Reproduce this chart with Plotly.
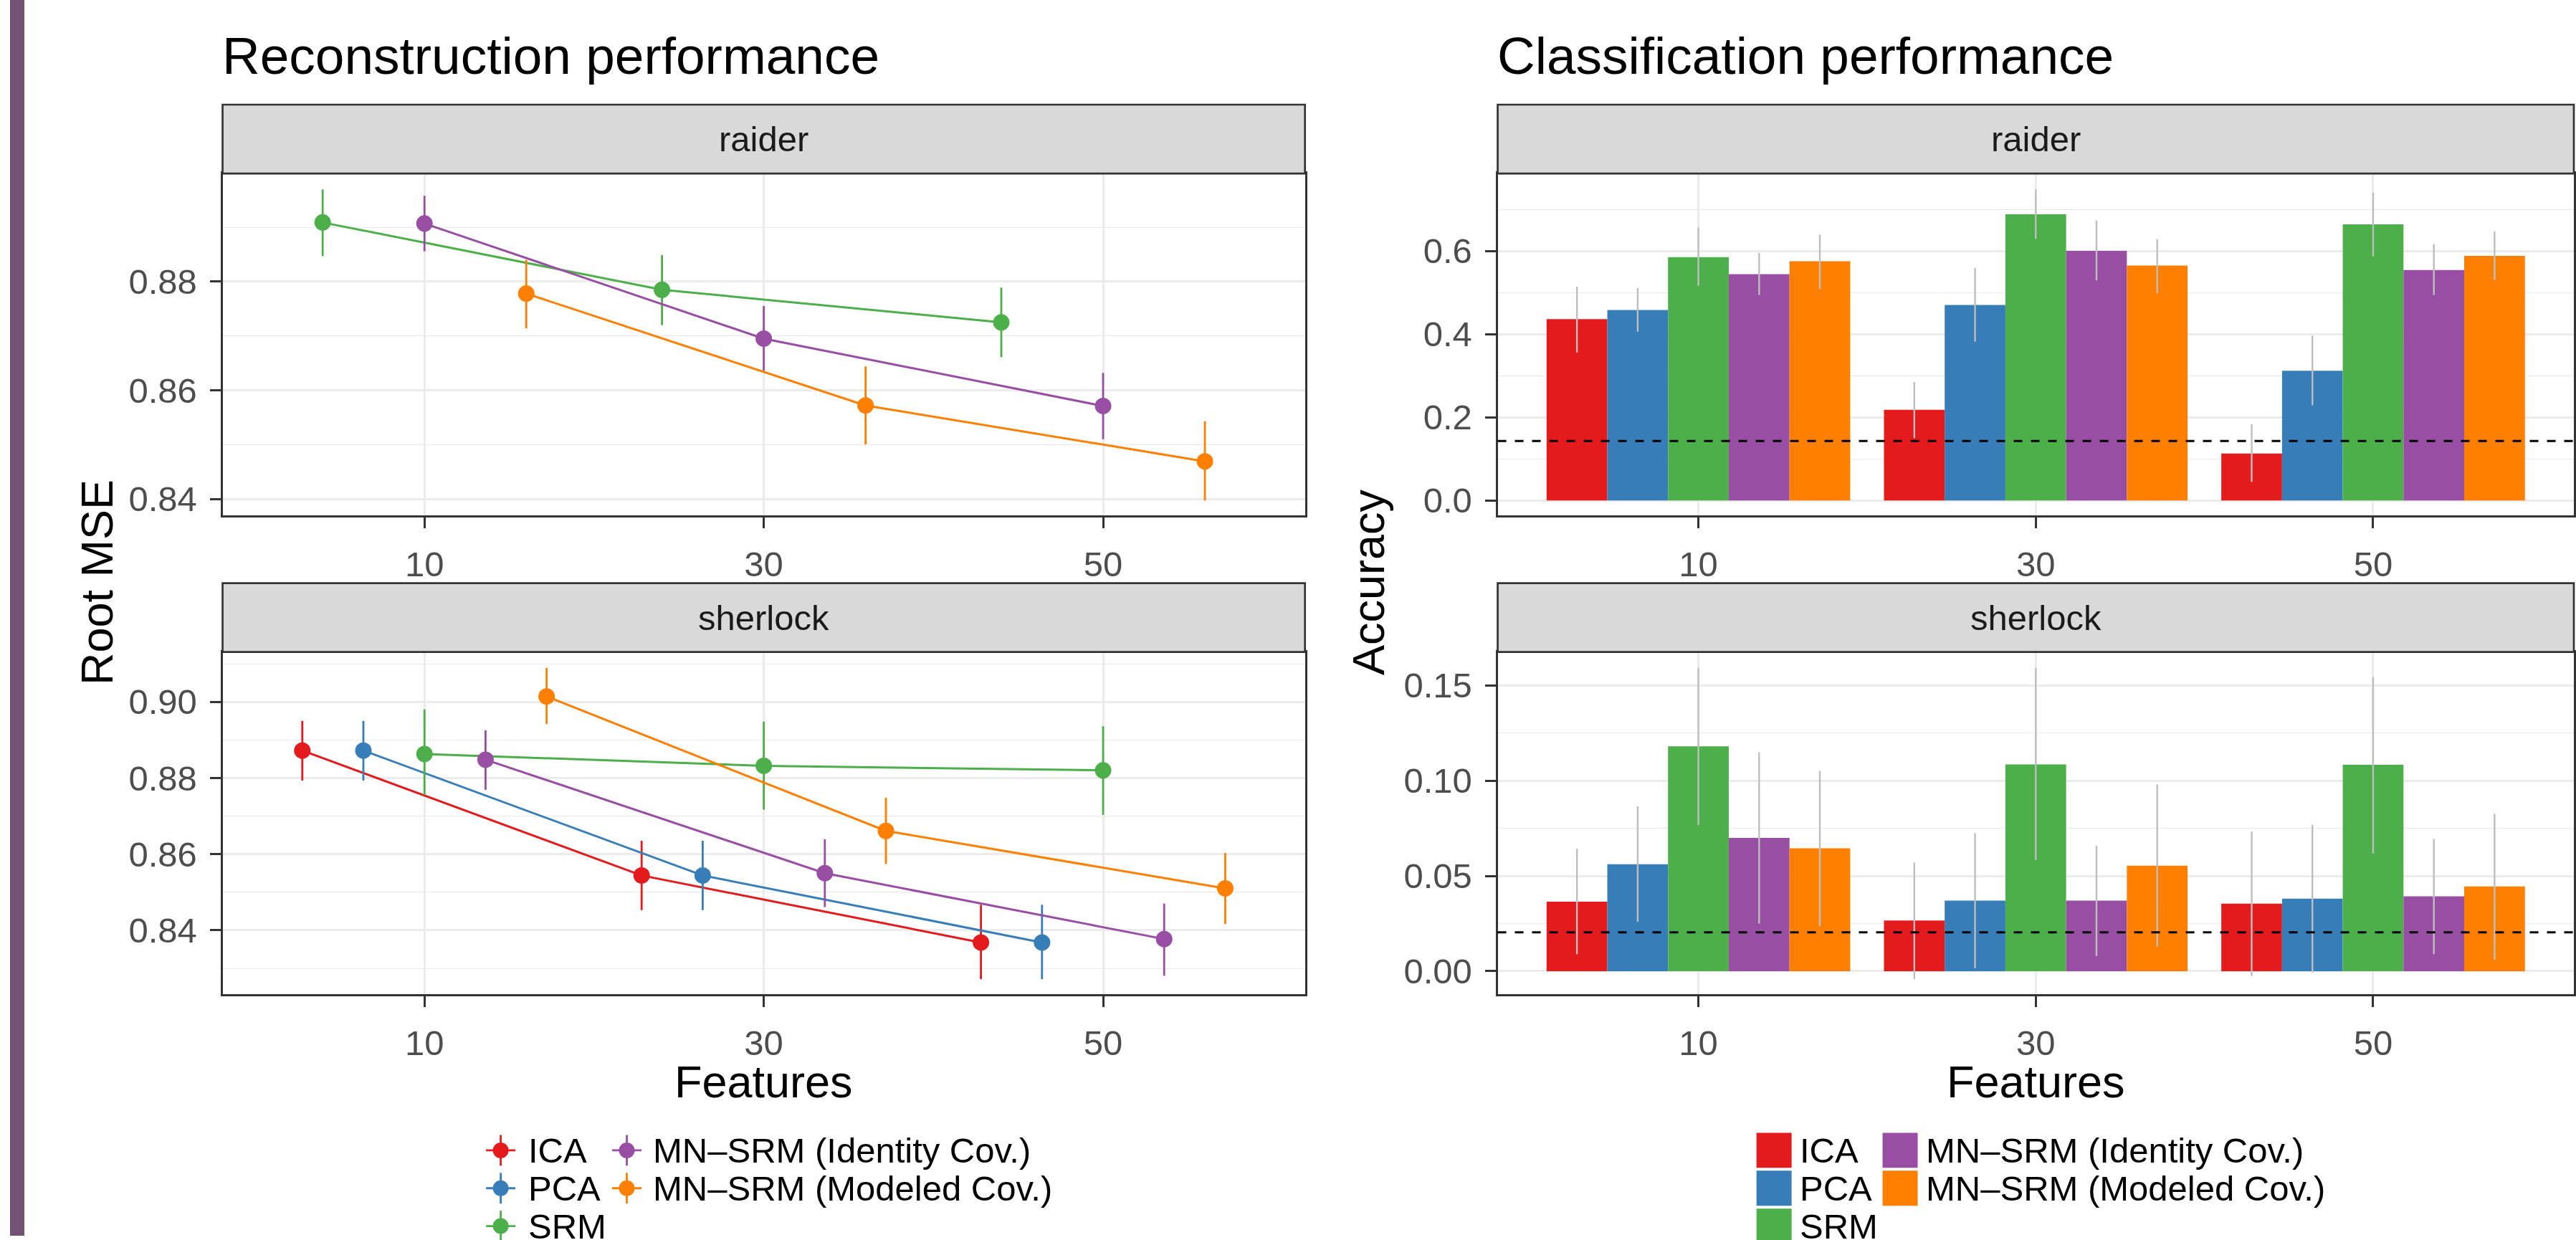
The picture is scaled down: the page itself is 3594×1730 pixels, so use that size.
import plotly.graph_objects as go

W, H = 3594, 1730
FONT = "Liberation Sans, Arial, Helvetica, sans-serif"

# ---------------- data ----------------
methods = ["ICA", "PCA", "SRM", "MN\u2013SRM (Identity Cov.)", "MN\u2013SRM (Modeled Cov.)"]
colors = ["#E41A1C", "#377EB8", "#4DAF4A", "#984EA3", "#FF7F00"]
features = [10, 30, 50]
datasets = ["raider", "sherlock"]

# Reconstruction performance (Root MSE): mean / lower / upper
rec_raider_methods = ["SRM", "MN\u2013SRM (Identity Cov.)", "MN\u2013SRM (Modeled Cov.)"]
rec_raider_mean = [[0.8909, 0.8785, 0.8725], [0.8907, 0.8695, 0.8571], [0.8778, 0.8572, 0.8469]]
rec_raider_lo = [[0.8847, 0.8720, 0.8661], [0.8856, 0.8636, 0.8510], [0.8714, 0.8500, 0.8397]]
rec_raider_hi = [[0.8970, 0.8849, 0.8789], [0.8958, 0.8755, 0.8632], [0.8840, 0.8644, 0.8543]]

rec_sherlock_methods = methods
rec_sherlock_mean = [[0.8872, 0.8544, 0.8368], [0.8872, 0.8544, 0.8368], [0.8863, 0.8832, 0.8820],
                     [0.8848, 0.8550, 0.8377], [0.9014, 0.8661, 0.8510]]
rec_sherlock_lo = [[0.8793, 0.8453, 0.8272], [0.8793, 0.8453, 0.8272], [0.8755, 0.8717, 0.8703],
                   [0.8769, 0.8461, 0.8281], [0.8942, 0.8574, 0.8417]]
rec_sherlock_hi = [[0.8950, 0.8635, 0.8467], [0.8950, 0.8635, 0.8467], [0.8980, 0.8948, 0.8936],
                   [0.8925, 0.8639, 0.8470], [0.9089, 0.8748, 0.8603]]

# Classification performance (Accuracy): mean / lower / upper, per method across features
cls_raider_mean = [[0.436, 0.218, 0.113], [0.458, 0.470, 0.312], [0.585, 0.688, 0.664],
                   [0.544, 0.600, 0.554], [0.575, 0.565, 0.588]]
cls_raider_lo = [[0.356, 0.150, 0.045], [0.406, 0.382, 0.229], [0.516, 0.629, 0.587],
                 [0.494, 0.529, 0.494], [0.509, 0.498, 0.530]]
cls_raider_hi = [[0.514, 0.285, 0.183], [0.511, 0.559, 0.396], [0.656, 0.748, 0.740],
                 [0.595, 0.673, 0.616], [0.639, 0.628, 0.647]]

cls_sherlock_mean = [[0.0365, 0.0266, 0.0354], [0.0561, 0.0370, 0.0381], [0.1180, 0.1085, 0.1083],
                     [0.0699, 0.0370, 0.0393], [0.0645, 0.0554, 0.0445]]
cls_sherlock_lo = [[0.0089, -0.0041, -0.0025], [0.0259, 0.0016, -0.0007], [0.0767, 0.0583, 0.0617],
                   [0.0250, 0.0079, 0.0089], [0.0236, 0.0129, 0.0061]]
cls_sherlock_hi = [[0.0642, 0.0570, 0.0733], [0.0865, 0.0724, 0.0767], [0.1590, 0.1590, 0.1543],
                   [0.1148, 0.0658, 0.0694], [0.1051, 0.0980, 0.0826]]

chance_level = [1 / 7, 1 / 49]

# ---------------- helpers ----------------
def px_x(p):
    return p / W


def px_y(p):
    return 1 - p / H


DODGE = 18.0
fig = go.Figure()

def add_lines(mlist, mean, lo, hi, xa, ya):
    n = len(mlist)
    for i, m in enumerate(mlist):
        c = colors[methods.index(m)]
        off = -DODGE / 2 + DODGE / n * (i + 0.5)
        fig.add_trace(go.Scatter(
            x=[f + off for f in features], y=mean[i], mode="lines+markers",
            line=dict(color=c, width=3), marker=dict(color=c, size=23),
            error_y=dict(type="data", symmetric=False,
                         array=[h - v for h, v in zip(hi[i], mean[i])],
                         arrayminus=[v - l for v, l in zip(mean[i], lo[i])],
                         color=c, thickness=2.8, width=0),
            xaxis=xa, yaxis=ya, showlegend=False, name=m))


def add_bars(mean, lo, hi, xa, ya):
    for i, m in enumerate(methods):
        fig.add_trace(go.Bar(
            x=features, y=mean[i], marker=dict(color=colors[i], line=dict(width=0)),
            error_y=dict(type="data", symmetric=False,
                         array=[h - v for h, v in zip(hi[i], mean[i])],
                         arrayminus=[v - l for v, l in zip(mean[i], lo[i])],
                         color="#BEBEBE", thickness=2.4, width=0),
            xaxis=xa, yaxis=ya, showlegend=False, name=m))


add_lines(rec_raider_methods, rec_raider_mean, rec_raider_lo, rec_raider_hi, "x", "y")
add_lines(rec_sherlock_methods, rec_sherlock_mean, rec_sherlock_lo, rec_sherlock_hi, "x2", "y2")
add_bars(cls_raider_mean, cls_raider_lo, cls_raider_hi, "x3", "y3")
add_bars(cls_sherlock_mean, cls_sherlock_lo, cls_sherlock_hi, "x4", "y4")

# ---------------- layout geometry (pixels) ----------------
LEFT_X = (310.7, 1821.7)
RIGHT_X = (2090.7, 3593.0)
TOP_P = (243.0, 722.0)      # plot area raider
BOT_P = (912.7, 1392.0)     # plot area sherlock
TOP_S = (146.5, 243.0)      # strip raider
BOT_S = (816.5, 912.7)      # strip sherlock

GRID = "#EBEBEB"
DARK = "#333333"


def xdom(r):
    return [px_x(r[0]), px_x(r[1])]


def ydom(r):
    return [px_y(r[1]), px_y(r[0])]


def xaxis(dom, anchor):
    return dict(domain=xdom(dom), anchor=anchor, range=[-1.9, 61.9], tickmode="array",
                tickvals=features, ticks="outside", ticklen=15, tickwidth=2.7, tickcolor=DARK,
                showline=True, linecolor=DARK, linewidth=2.7, mirror=True,
                showgrid=True, gridcolor=GRID, gridwidth=2.6, zeroline=False,
                tickfont=dict(family=FONT, size=49, color="#4D4D4D"), ticklabelstandoff=8)


def yaxis(dom, anchor, rng, tickvals, minor, fmt):
    return dict(domain=ydom(dom), anchor=anchor, range=rng, tickmode="array",
                tickvals=tickvals, tickformat=fmt, ticks="outside", ticklen=15, tickwidth=2.7,
                tickcolor=DARK, showline=True, linecolor=DARK, linewidth=2.7, mirror=True,
                showgrid=True, gridcolor=GRID, gridwidth=2.6, zeroline=False,
                minor=dict(tickmode="array", tickvals=minor, showgrid=True, gridcolor=GRID,
                           gridwidth=1.3, ticks=""),
                tickfont=dict(family=FONT, size=49, color="#4D4D4D"), ticklabelstandoff=8)


fig.update_layout(
    width=W, height=H, margin=dict(l=0, r=0, t=0, b=0),
    paper_bgcolor="white", plot_bgcolor="white",
    barmode="group", bargap=0.1, bargroupgap=0.0,
    font=dict(family=FONT, color="black"),
    xaxis=xaxis(LEFT_X, "y"),
    yaxis=yaxis(TOP_P, "x", [0.8369, 0.8999], [0.84, 0.86, 0.88], [0.85, 0.87, 0.89], ".2f"),
    xaxis2=xaxis(LEFT_X, "y2"),
    yaxis2=yaxis(BOT_P, "x2", [0.8232, 0.9131], [0.84, 0.86, 0.88, 0.90],
                 [0.83, 0.85, 0.87, 0.89, 0.91], ".2f"),
    xaxis3=xaxis(RIGHT_X, "y3"),
    yaxis3=yaxis(TOP_P, "x3", [-0.0366, 0.786], [0.0, 0.2, 0.4, 0.6], [0.1, 0.3, 0.5, 0.7], ".1f"),
    xaxis4=xaxis(RIGHT_X, "y4"),
    yaxis4=yaxis(BOT_P, "x4", [-0.0121, 0.1675], [0.0, 0.05, 0.10, 0.15],
                 [0.025, 0.075, 0.125], ".2f"),
)

shapes = []
annotations = []

# decorative slide bar on the far left
shapes.append(dict(type="rect", xref="paper", yref="paper", x0=px_x(14), x1=px_x(34), y0=0, y1=1,
                   fillcolor="#735177", line=dict(width=0), layer="below"))

# chance lines
for xa, ya, lvl in (("x3", "y3", chance_level[0]), ("x4", "y4", chance_level[1])):
    shapes.append(dict(type="line", xref=xa + " domain", yref=ya, x0=0, x1=1, y0=lvl, y1=lvl,
                       line=dict(color="black", width=3, dash="12px,12px"), layer="above"))

# facet strips
for xr in (LEFT_X, RIGHT_X):
    for sr, label in ((TOP_S, datasets[0]), (BOT_S, datasets[1])):
        shapes.append(dict(type="rect", xref="paper", yref="paper",
                           x0=px_x(xr[0]), x1=px_x(xr[1]), y0=px_y(sr[1]), y1=px_y(sr[0]),
                           fillcolor="#D9D9D9", line=dict(color=DARK, width=2.7)))
        annotations.append(dict(text=label, xref="paper", yref="paper",
                                x=px_x((xr[0] + xr[1]) / 2), y=px_y((sr[0] + sr[1]) / 2),
                                xanchor="center", yanchor="middle", showarrow=False,
                                font=dict(family=FONT, size=49, color="#1A1A1A")))

# titles
annotations.append(dict(text="Reconstruction performance", xref="paper", yref="paper",
                        x=px_x(308), y=px_y(78), xanchor="left", yanchor="middle",
                        showarrow=False, font=dict(family=FONT, size=73, color="black")))
annotations.append(dict(text="Classification performance", xref="paper", yref="paper",
                        x=px_x(2088), y=px_y(78), xanchor="left", yanchor="middle",
                        showarrow=False, font=dict(family=FONT, size=73, color="black")))

# axis titles
for xr in (LEFT_X, RIGHT_X):
    annotations.append(dict(text="Features", xref="paper", yref="paper",
                            x=px_x((xr[0] + xr[1]) / 2), y=px_y(1514), xanchor="center",
                            yanchor="middle", showarrow=False,
                            font=dict(family=FONT, size=63, color="black")))
annotations.append(dict(text="Root MSE", xref="paper", yref="paper", x=px_x(135), y=px_y(815),
                        xanchor="center", yanchor="middle", textangle=-90, showarrow=False,
                        font=dict(family=FONT, size=63, color="black")))
annotations.append(dict(text="Accuracy", xref="paper", yref="paper", x=px_x(1910), y=px_y(815),
                        xanchor="center", yanchor="middle", textangle=-90, showarrow=False,
                        font=dict(family=FONT, size=63, color="black")))

# legends (two columns, column-major: ICA, PCA, SRM | Identity, Modeled)
rows = [1610.5, 1663.5, 1716.5]
slots = [(0, 0), (0, 1), (0, 2), (1, 0), (1, 1)]

# left legend: pointrange + line glyphs
L_MARK = [699, 875]
L_TEXT = [735, 910]
for i, m in enumerate(methods):
    col, r = slots[i]
    cx, cy = L_MARK[col], rows[r]
    c = colors[i]
    shapes.append(dict(type="line", xref="paper", yref="paper", x0=px_x(cx - 20.5), x1=px_x(cx + 20.5),
                       y0=px_y(cy), y1=px_y(cy), line=dict(color=c, width=2.8)))
    shapes.append(dict(type="line", xref="paper", yref="paper", x0=px_x(cx), x1=px_x(cx),
                       y0=px_y(cy - 21.5), y1=px_y(cy + 21.5), line=dict(color=c, width=2.8)))
    shapes.append(dict(type="circle", xref="paper", yref="paper", x0=px_x(cx - 11), x1=px_x(cx + 11),
                       y0=px_y(cy + 11), y1=px_y(cy - 11), fillcolor=c, line=dict(width=0)))
    annotations.append(dict(text=m, xref="paper", yref="paper", x=px_x(L_TEXT[col]), y=px_y(cy),
                            xanchor="left", yanchor="middle", showarrow=False,
                            font=dict(family=FONT, size=49, color="black")))

# right legend: filled squares
R_SQ = [2452, 2628]
R_TEXT = [2510, 2686]
for i, m in enumerate(methods):
    col, r = slots[i]
    x0, cy = R_SQ[col], rows[r]
    shapes.append(dict(type="rect", xref="paper", yref="paper", x0=px_x(x0), x1=px_x(x0 + 49),
                       y0=px_y(cy + 24.5), y1=px_y(cy - 24.5), fillcolor=colors[i], line=dict(width=0)))
    annotations.append(dict(text=m, xref="paper", yref="paper", x=px_x(R_TEXT[col]), y=px_y(cy),
                            xanchor="left", yanchor="middle", showarrow=False,
                            font=dict(family=FONT, size=49, color="black")))

fig.update_layout(shapes=shapes, annotations=annotations)
fig.write_html("out.html")
